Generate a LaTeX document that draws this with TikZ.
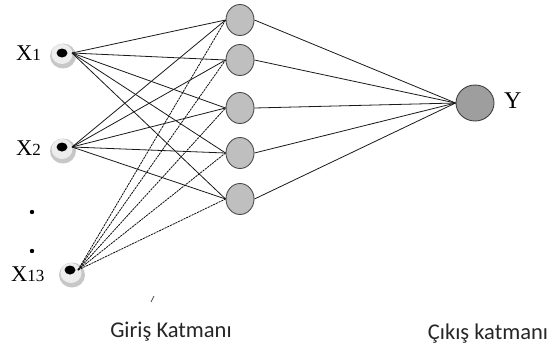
\documentclass[tikz,border=0pt]{standalone}
\usepackage{fontspec}
\usetikzlibrary{shapes.geometric}
\setmainfont{Liberation Serif}
\newfontfamily\labfont{Carlito}
\begin{document}
\begin{tikzpicture}[x=1pt,y=-1pt,
  hid/.style={ellipse,draw=black!70,line width=0.9pt,fill=black!25,minimum width=28pt,minimum height=31pt,inner sep=0pt},
  outn/.style={ellipse,draw=black!75,line width=0.9pt,fill=black!38,minimum width=38pt,minimum height=36pt,inner sep=0pt},
  indot/.style={ellipse,fill=black,minimum width=11pt,minimum height=9pt,inner sep=0pt},
  conn/.style={draw=black!90,line width=0.8pt},
  dconn/.style={draw=black!95,line width=0.8pt,dash pattern=on 2.2pt off 0.8pt},
  xlab/.style={font=\fontsize{22.5}{23}\selectfont,inner sep=0pt,anchor=base west},
  blab/.style={font=\labfont\fontsize{22.5}{23}\selectfont,text=black!85,inner sep=0pt,anchor=base}]
\useasboundingbox (0,0) rectangle (554,354);
% halos
\foreach \cx/\cy in {63/56,63/151,72/275}{
  \fill[black!22] (\cx,\cy) ellipse (13 and 12.5);
  \fill[black!7] (\cx-1,\cy-2) ellipse (10.5 and 10);
}
\node[indot] (x1) at (62,53) {};
\node[indot] (x2) at (62,147) {};
\node[indot] (x13) at (70,270) {};
\node[xlab] (lx1) at (16,60) {X{\fontsize{17}{17}\selectfont 1}};
\node[xlab] (lx2) at (16,155) {X{\fontsize{17}{17}\selectfont 2}};
\node[xlab] (lx13) at (11,281) {X{\fontsize{17}{17}\selectfont 13}};
\fill (32,212) circle (2.2);
\fill (32,251) circle (2.2);
% hidden
\node[hid] (h1) at (240,20) {};
\node[hid] (h2) at (240,60) {};
\node[hid] (h3) at (240,108) {};
\node[hid] (h4) at (240,153) {};
\node[hid] (h5) at (240,199) {};
\node[outn] (y) at (475,103) {};
\node[font=\fontsize{24}{24}\selectfont,anchor=base west,inner sep=0pt] (ly) at (504,108) {Y};
\coordinate (o1) at (72,53);
\coordinate (o2) at (72,147);
\coordinate (o13) at (78,270);
\foreach \h in {h1,h2,h3,h4,h5}{
  \draw[conn] (o1) -- (\h.west);
  \draw[conn] (o2) -- (\h.west);
  \draw[dconn] (o13) -- (\h.west);
  \draw[conn] (\h.east) -- (y.west);
}
\coordinate (m1) at (151,302);
\coordinate (m2) at (154,296);
\draw[black!70,line width=0.8pt] (m1) -- (m2);
\node[blab] (gl) at (171,337) {Giriş Katmanı};
\node[blab] (cl) at (488,339) {Çıkış katmanı};
\end{tikzpicture}
\end{document}
